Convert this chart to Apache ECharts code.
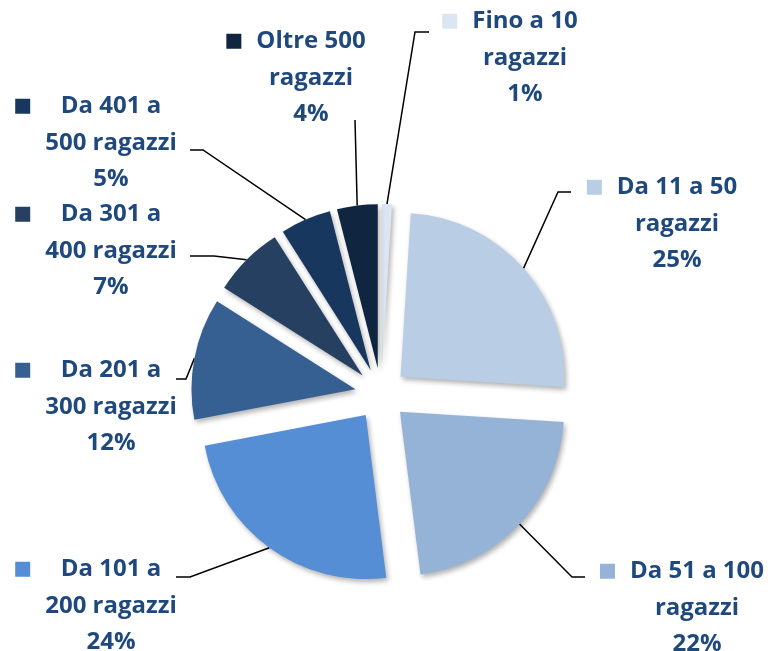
<!DOCTYPE html>
<html><head><meta charset="utf-8">
<script src="https://cdn.jsdelivr.net/npm/echarts@6/dist/echarts.min.js"></script>
<style>html,body{margin:0;padding:0;background:#fff}#c{width:773px;height:651px}</style>
</head><body><div id="c"></div>
<script>
const categories = ['Fino a 10\nragazzi','Da 11 a 50\nragazzi','Da 51 a 100\nragazzi','Da 101 a\n200 ragazzi','Da 201 a\n300 ragazzi','Da 301 a\n400 ragazzi','Da 401 a\n500 ragazzi','Oltre 500\nragazzi'];
const shares = [1,25,22,24,12,7,5,4];
const colors = ['#dce6f2','#b9cde5','#95b3d7','#558ed5','#376092','#254061','#17375e','#10253f'];
// label block anchors (center x, top y) and leader elbow points – layout only
const labelAnchors = [[525,3],[677,169],[697,553],[111,551],[111,352],[111,196],[111,88],[311,23]];
const leaderBends = [[[415,32],[429,32]],[[558,192],[571,192]],[[572,577],[585,577]],[[190,577],[176,577]],[[186,379],[176,379]],[[214,256],[190,256]],[[203,150],[190,150]],[[355,120],[355,120]]];
const CX=381, CY=394, R=164, OFF=26;
const TXT='#1f497d', FONT='Open Sans', LH=36.5;

const rich = {
  g:{width:15, align:'left', lineHeight:LH},
  g2:{width:30, align:'left', lineHeight:LH},
  sp:{width:30, align:'right', lineHeight:LH},
  t:{fontFamily:FONT, fontSize:24, fontWeight:'bold', fill:TXT, align:'center', lineHeight:LH}
};
colors.forEach((c,i)=>{ rich['m'+i] = {width:15, height:15, backgroundColor:c, align:'left', lineHeight:LH}; });

function labelText(i){
  const lines = categories[i].split('\n');
  return '{m'+i+'|}{g|}{t|'+lines[0]+'}{sp|}\n{g2|}{t|'+lines[1]+'}{sp|}\n{g2|}{t|'+shares[i]+'%}{sp|}';
}

const chart = echarts.init(document.getElementById('c'), null, {renderer:'canvas'});
chart.setOption({
  animation:false,
  backgroundColor:'#fff',
  graphic: categories.map((c,i)=>({
    type:'text', silent:true, z:10,
    x:labelAnchors[i][0], y:labelAnchors[i][1],
    style:{text:labelText(i), rich:rich, align:'center', verticalAlign:'top',
           fill:TXT, fontFamily:FONT, fontSize:24, fontWeight:'bold'}
  })),
  series:[{
    type:'pie',
    center:[CX,CY],
    radius:R,
    startAngle:90,
    clockwise:true,
    selectedMode:'multiple',
    selectedOffset:OFF,
    emphasis:{disabled:true},
    itemStyle:{borderWidth:0, shadowBlur:5, shadowOffsetX:2, shadowOffsetY:3, shadowColor:'rgba(0,0,0,0.3)'},
    label:{show:true, position:'outside', formatter:' ', color:'rgba(0,0,0,0)'},
    labelLine:{show:true, length:10, length2:10, smooth:false, lineStyle:{color:'#000', width:1.5}},
    labelLayout:function(p){
      const i = p.dataIndex;
      const res = {};
      const pts = p.labelLinePoints;
      if (pts && pts.length){
        const p0 = pts[0];
        const ux = p0[0]-CX, uy = p0[1]-CY, len = Math.hypot(ux,uy)||1;
        const dx = OFF*ux/len, dy = OFF*uy/len;
        const b = leaderBends[i];
        res.labelLinePoints = [[p0[0],p0[1]],[b[0][0]-dx,b[0][1]-dy],[b[1][0]-dx,b[1][1]-dy]];
      }
      return res;
    },
    data: shares.map((v,i)=>({value:v, name:categories[i], selected:true, itemStyle:{color:colors[i]}}))
  }]
});
</script></body></html>
